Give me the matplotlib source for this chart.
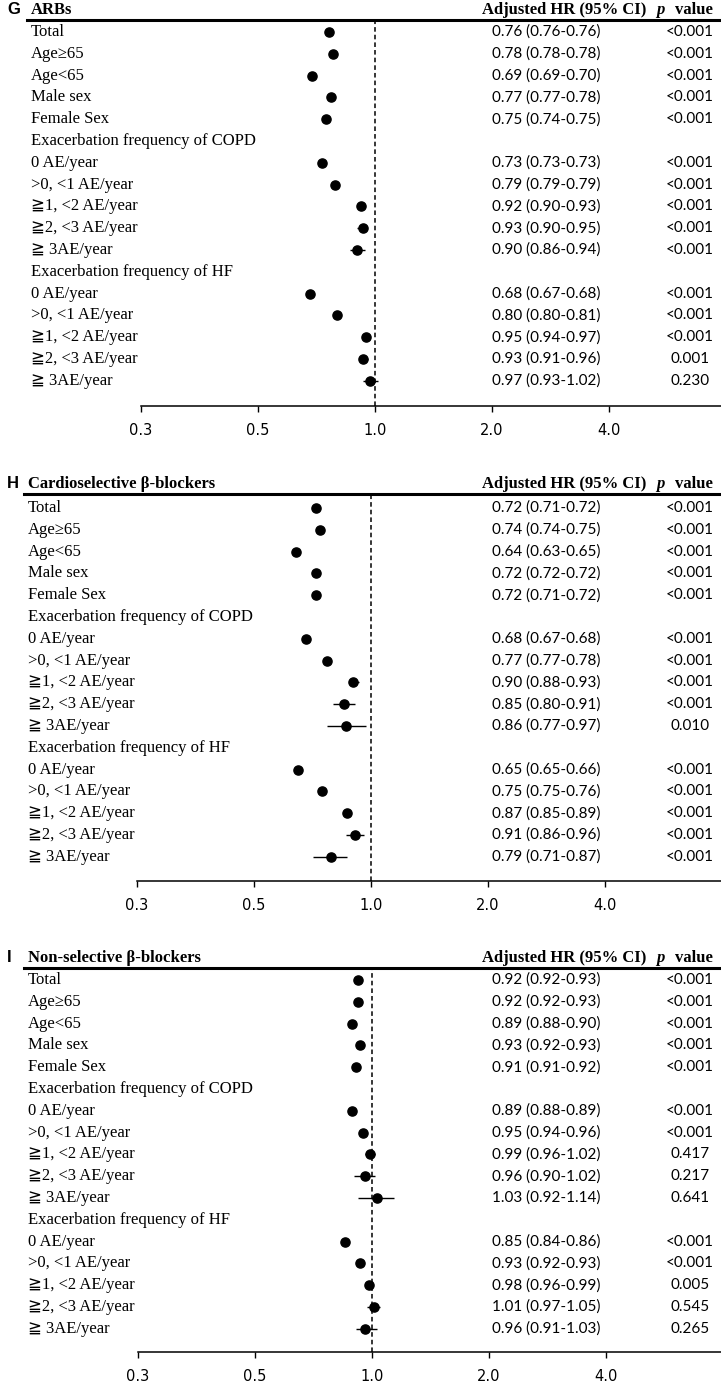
"""Forest plots of adjusted HR by subgroup for ARBs and beta-blockers (panels G-I)."""
import numpy as np
import matplotlib

matplotlib.use("Agg")
import matplotlib.pyplot as plt
from matplotlib.ticker import NullLocator

# ── Data ─────────────────────────────────────────────────────────────────────
ROW_LABELS = [
    "Total", "Age≥65", "Age<65", "Male sex", "Female Sex",
    "Exacerbation frequency of COPD",
    "0 AE/year", ">0, <1 AE/year", "≧1, <2 AE/year", "≧2, <3 AE/year", "≧ 3AE/year",
    "Exacerbation frequency of HF",
    "0 AE/year", ">0, <1 AE/year", "≧1, <2 AE/year", "≧2, <3 AE/year", "≧ 3AE/year",
]
NA = np.nan

ARB_HR = [0.76, 0.78, 0.69, 0.77, 0.75, NA, 0.73, 0.79, 0.92, 0.93, 0.90, NA, 0.68, 0.80, 0.95, 0.93, 0.97]
ARB_LO = [0.76, 0.78, 0.69, 0.77, 0.74, NA, 0.73, 0.79, 0.90, 0.90, 0.86, NA, 0.67, 0.80, 0.94, 0.91, 0.93]
ARB_HI = [0.76, 0.78, 0.70, 0.78, 0.75, NA, 0.73, 0.79, 0.93, 0.95, 0.94, NA, 0.68, 0.81, 0.97, 0.96, 1.02]
ARB_P = ["<0.001", "<0.001", "<0.001", "<0.001", "<0.001", "",
         "<0.001", "<0.001", "<0.001", "<0.001", "<0.001", "",
         "<0.001", "<0.001", "<0.001", "0.001", "0.230"]

CBB_HR = [0.72, 0.74, 0.64, 0.72, 0.72, NA, 0.68, 0.77, 0.90, 0.85, 0.86, NA, 0.65, 0.75, 0.87, 0.91, 0.79]
CBB_LO = [0.71, 0.74, 0.63, 0.72, 0.71, NA, 0.67, 0.77, 0.88, 0.80, 0.77, NA, 0.65, 0.75, 0.85, 0.86, 0.71]
CBB_HI = [0.72, 0.75, 0.65, 0.72, 0.72, NA, 0.68, 0.78, 0.93, 0.91, 0.97, NA, 0.66, 0.76, 0.89, 0.96, 0.87]
CBB_P = ["<0.001", "<0.001", "<0.001", "<0.001", "<0.001", "",
         "<0.001", "<0.001", "<0.001", "<0.001", "0.010", "",
         "<0.001", "<0.001", "<0.001", "<0.001", "<0.001"]

NBB_HR = [0.92, 0.92, 0.89, 0.93, 0.91, NA, 0.89, 0.95, 0.99, 0.96, 1.03, NA, 0.85, 0.93, 0.98, 1.01, 0.96]
NBB_LO = [0.92, 0.92, 0.88, 0.92, 0.91, NA, 0.88, 0.94, 0.96, 0.90, 0.92, NA, 0.84, 0.92, 0.96, 0.97, 0.91]
NBB_HI = [0.93, 0.93, 0.90, 0.93, 0.92, NA, 0.89, 0.96, 1.02, 1.02, 1.14, NA, 0.86, 0.93, 0.99, 1.05, 1.03]
NBB_P = ["<0.001", "<0.001", "<0.001", "<0.001", "<0.001", "",
         "<0.001", "<0.001", "0.417", "0.217", "0.641", "",
         "<0.001", "<0.001", "0.005", "0.545", "0.265"]

TICK_VALUES = [0.25, 0.5, 1.0, 2.0, 4.0]
TICK_LABELS = ["0.3", "0.5", "1.0", "2.0", "4.0"]

# ── Layout (pixels) ──────────────────────────────────────────────────────────
W, H = 721, 1382
STEP = 21.8          # row spacing
PER_DOUBLING = 117   # px per doubling of HR

SERIF = ["Liberation Serif", "DejaVu Serif", "DejaVu Sans"]
NUMS = ["Lato", "DejaVu Sans"]

fig = plt.figure(figsize=(W / 100, H / 100), dpi=100)


def px(x):
    return x / W


def draw_panel(letter, title, hr, lo, hi, pvals, line_y, total_y, axis_y, one_x, label_x):
    hr, lo, hi = np.array(hr), np.array(lo), np.array(hi)
    rows = np.arange(len(ROW_LABELS))

    ax = fig.add_axes([0, 1 - axis_y / H, 1, (axis_y - line_y) / H])
    ax.set_xscale("log", base=2)
    xmin = 2 ** (-one_x / PER_DOUBLING)
    xmax = 2 ** ((W - one_x) / PER_DOUBLING)
    ax.set_xlim(xmin, xmax)
    ax.set_ylim((axis_y - total_y) / STEP, (line_y - total_y) / STEP)
    ax.patch.set_alpha(0)

    # spines: thick header rule on top, axis line at bottom
    for side in ("left", "right"):
        ax.spines[side].set_visible(False)
    ax.spines["top"].set_linewidth(2.2)
    ax.spines["top"].set_bounds(2 ** ((label_x - 4 - one_x) / PER_DOUBLING), xmax)
    ax.spines["bottom"].set_linewidth(1.1)
    ax.spines["bottom"].set_bounds(TICK_VALUES[0], xmax)

    ax.set_xticks(TICK_VALUES)
    ax.set_xticklabels(TICK_LABELS)
    ax.xaxis.set_minor_locator(NullLocator())
    ax.set_yticks([])
    ax.tick_params(axis="x", direction="out", length=4, width=1, pad=8,
                   labelsize=10.5, colors="black")
    for t in ax.get_xticklabels():
        t.set_fontfamily("DejaVu Sans")

    ax.axvline(1.0, color="black", ls=(0, (3, 2)), lw=1.1, zorder=1)

    ok = ~np.isnan(hr)
    ax.hlines(rows[ok], lo[ok], hi[ok], color="black", lw=1.0, zorder=2)
    ax.plot(hr[ok], rows[ok], "o", color="black", ms=6.6, zorder=3)

    tr = ax.get_yaxis_transform()
    for i, lab in enumerate(ROW_LABELS):
        ax.text(px(label_x), i, lab, transform=tr, ha="left", va="center",
                fontsize=12, family=SERIF, clip_on=False)
        if ok[i]:
            ax.text(px(546), i, f"{hr[i]:.2f} ({lo[i]:.2f}-{hi[i]:.2f})", transform=tr,
                    ha="center", va="center", fontsize=11, family=NUMS)
            ax.text(px(690), i, pvals[i], transform=tr, ha="center", va="center",
                    fontsize=11, family=NUMS)

    head_y = (line_y - 10 - total_y) / STEP
    ax.text(px(7), head_y, letter, transform=tr, ha="left", va="center",
            fontsize=12, fontweight="bold", family="Liberation Sans", clip_on=False)
    ax.text(px(label_x), head_y, title, transform=tr, ha="left", va="center",
            fontsize=12, fontweight="bold", family=SERIF, clip_on=False)
    ax.text(px(646), head_y, "Adjusted HR (95% CI)", transform=tr, ha="right",
            va="center", fontsize=12, fontweight="bold", family=SERIF, clip_on=False)
    ax.text(px(656), head_y, "p", transform=tr, ha="left", va="center", fontsize=12,
            fontweight="bold", fontstyle="italic", family=SERIF, clip_on=False)
    ax.text(px(713), head_y, "value", transform=tr, ha="right", va="center",
            fontsize=12, fontweight="bold", family=SERIF, clip_on=False)


draw_panel("G", "ARBs", ARB_HR, ARB_LO, ARB_HI, ARB_P,
           line_y=20, total_y=32, axis_y=406, one_x=375, label_x=31)
draw_panel("H", "Cardioselective β-blockers", CBB_HR, CBB_LO, CBB_HI, CBB_P,
           line_y=494, total_y=508, axis_y=881, one_x=371, label_x=28)
draw_panel("I", "Non-selective β-blockers", NBB_HR, NBB_LO, NBB_HI, NBB_P,
           line_y=968, total_y=980, axis_y=1352, one_x=372, label_x=28)

fig.savefig("out.png", dpi=100)
plt.close(fig)
